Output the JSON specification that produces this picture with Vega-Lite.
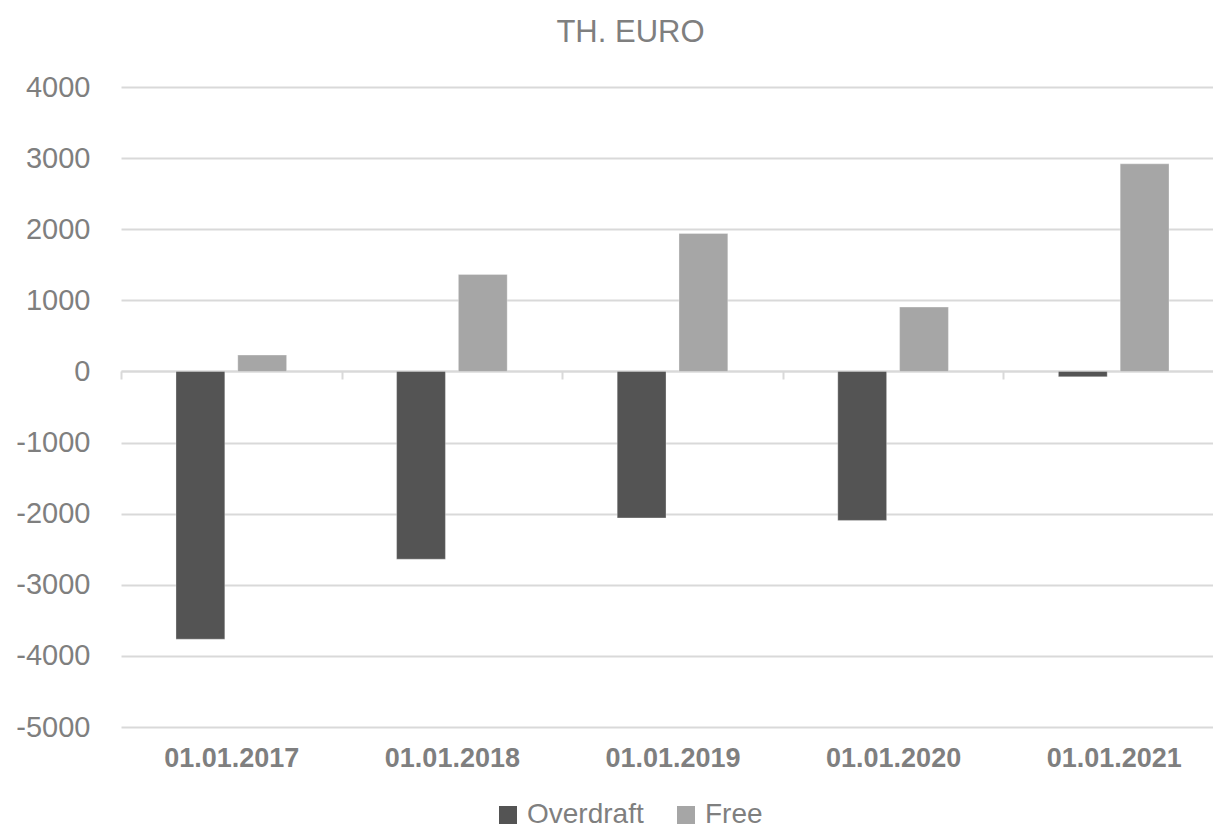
{
  "$schema": "https://vega.github.io/schema/vega-lite/v6.json",
  "width": 1103,
  "height": 640,
  "padding": {"left": 15, "top": 17, "right": 0, "bottom": 0},
  "background": "white",
  "title": {"text": "TH. EURO", "fontSize": 31, "font": "Liberation Sans", "fontWeight": "normal", "color": "#7f7f7f", "anchor": "middle", "dx": -42, "offset": 24},
  "data": {"values": [
    {"date": "01.01.2017", "series": "Overdraft", "value": -3765},
    {"date": "01.01.2017", "series": "Free", "value": 230},
    {"date": "01.01.2018", "series": "Overdraft", "value": -2640},
    {"date": "01.01.2018", "series": "Free", "value": 1365},
    {"date": "01.01.2019", "series": "Overdraft", "value": -2060},
    {"date": "01.01.2019", "series": "Free", "value": 1940},
    {"date": "01.01.2020", "series": "Overdraft", "value": -2095},
    {"date": "01.01.2020", "series": "Free", "value": 905},
    {"date": "01.01.2021", "series": "Overdraft", "value": -75},
    {"date": "01.01.2021", "series": "Free", "value": 2920}
  ]},
  "mark": {"type": "bar", "stroke": "#ffffff", "strokeOpacity": 0.3, "strokeWidth": 1},
  "encoding": {
    "x": {"field": "date", "type": "nominal", "sort": null,
      "scale": {"paddingInner": 0, "paddingOuter": 0},
      "axis": {"title": null, "labelAngle": 0, "offset": -356, "domainColor": "#d9d9d9", "domainWidth": 2,
        "tickBand": "extent", "tickColor": "#d9d9d9", "tickWidth": 2, "tickSize": 8,
        "labelPadding": 366, "labelFont": "Liberation Sans", "labelFontSize": 27, "labelFontWeight": "bold", "labelColor": "#7f7f7f"}},
    "xOffset": {"field": "series", "type": "nominal", "sort": ["Overdraft", "Free"],
      "scale": {"paddingInner": 0.21, "paddingOuter": 0.89}},
    "y": {"field": "value", "type": "quantitative",
      "scale": {"domain": [-5000, 4000], "nice": false, "zero": false},
      "axis": {"title": null, "values": [-5000, -4000, -3000, -2000, -1000, 0, 1000, 2000, 3000, 4000],
        "labelExpr": "replace(format(datum.value, 'd'), '−', '-')",
        "domain": false, "ticks": false, "gridColor": "#d9d9d9", "gridWidth": 2,
        "labelFont": "Liberation Sans", "labelFontSize": 29, "labelColor": "#7f7f7f", "labelPadding": 31}},
    "color": {"field": "series", "type": "nominal", "sort": ["Overdraft", "Free"],
      "scale": {"domain": ["Overdraft", "Free"], "range": ["#545454", "#a6a6a6"]},
      "legend": {"title": null, "orient": "none", "direction": "horizontal", "legendX": 373, "legendY": 714,
        "symbolType": "square", "symbolSize": 324, "symbolStrokeWidth": 0, "symbolOpacity": 1,
        "labelFont": "Liberation Sans", "labelFontSize": 28, "labelColor": "#7f7f7f", "columnPadding": 28, "labelOffset": 5}}
  },
  "config": {"view": {"stroke": null}}
}
